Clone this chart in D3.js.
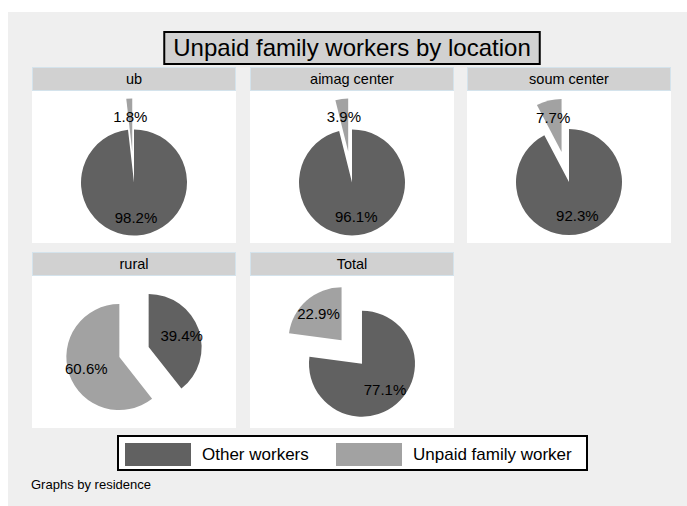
<!DOCTYPE html>
<html>
<head>
<meta charset="utf-8">
<script src="https://cdn.jsdelivr.net/npm/d3@7"></script>
<style>
  body { margin: 0; background: #fff; }
  text { font-family: "Liberation Sans", Arial, sans-serif; fill: #000; }
</style>
</head>
<body>
<div id="chart"></div>
<script>
// data
var panels = ["ub", "aimag center", "soum center", "rural", "Total"];
var otherWorkers = [98.2, 96.1, 92.3, 39.4, 77.1];
var unpaidWorkers = [1.8, 3.9, 7.7, 60.6, 22.9];
var seriesNames = ["Other workers", "Unpaid family worker"];
var titleText = "Unpaid family workers by location";
var noteText = "Graphs by residence";

var attrs = {
    svgWidth: 687,
    svgHeight: 506,
    bgLeft: 8,
    bgTop: 12,
    colX: [32, 250, 467],
    rowY: [67, 252],
    cellWidth: 204,
    headerHeight: 24,
    plotHeight: 152,
    radius: 53,
    explode: 31,
    labelPos: 0.66
};

var color = d3.scaleOrdinal()
    .domain(seriesNames)
    .range(["#616161", "#a2a2a2"]);

var svg = d3.select("#chart")
    .append("svg")
    .attr("width", attrs.svgWidth)
    .attr("height", attrs.svgHeight);

svg.append("rect")
    .attr("x", attrs.bgLeft).attr("y", attrs.bgTop)
    .attr("width", attrs.svgWidth - attrs.bgLeft)
    .attr("height", attrs.svgHeight - attrs.bgTop)
    .attr("fill", "#efefef");

// title
var titleG = svg.append("g");
var titleBox = titleG.append("rect")
    .attr("fill", "#d1d1d1")
    .attr("stroke", "#000")
    .attr("stroke-width", 2);
var title = titleG.append("text")
    .attr("x", 352).attr("y", 56)
    .attr("text-anchor", "middle")
    .attr("font-size", 24)
    .text(titleText);
var tb = title.node().getBBox();
titleBox.attr("x", tb.x - 9).attr("y", 32)
    .attr("width", tb.width + 18).attr("height", 32);

var pie = d3.pie().sort(null).value(function (d) { return d.value; });
var arc = d3.arc().innerRadius(0).outerRadius(attrs.radius);
var fmt = d3.format(".1f");

panels.forEach(function (name, i) {
    var x0 = attrs.colX[i % 3];
    var y0 = attrs.rowY[Math.floor(i / 3)];
    var g = svg.append("g").attr("transform", "translate(" + x0 + "," + y0 + ")");

    g.append("rect")
        .attr("x", 0.5).attr("y", 0.5)
        .attr("width", attrs.cellWidth - 1).attr("height", attrs.headerHeight - 1)
        .attr("fill", "#d1d1d1")
        .attr("stroke", "#d4e3ec");
    g.append("text")
        .attr("x", attrs.cellWidth / 2).attr("y", 17)
        .attr("text-anchor", "middle")
        .attr("font-size", 14.5)
        .text(name);

    g.append("rect")
        .attr("x", 0).attr("y", attrs.headerHeight)
        .attr("width", attrs.cellWidth).attr("height", attrs.plotHeight)
        .attr("fill", "#fff");

    var slices = pie([
        { key: seriesNames[0], value: otherWorkers[i] },
        { key: seriesNames[1], value: unpaidWorkers[i] }
    ]);

    var pieG = g.append("g");
    var sliceG = pieG.selectAll("g.slice")
        .data(slices)
        .enter()
        .append("g")
        .attr("class", "slice")
        .attr("transform", function (d, j) {
            if (j === 0) return null;
            var a = (d.startAngle + d.endAngle) / 2;
            return "translate(" + (Math.sin(a) * attrs.explode) + "," + (-Math.cos(a) * attrs.explode) + ")";
        });

    sliceG.append("path")
        .attr("d", arc)
        .attr("fill", function (d) { return color(d.data.key); });

    // center the pie's bounding box in the plot area
    var bb = pieG.node().getBBox();
    var cx = attrs.cellWidth / 2 - (bb.x + bb.width / 2);
    var cy = attrs.headerHeight + attrs.plotHeight / 2 - (bb.y + bb.height / 2);
    pieG.attr("transform", "translate(" + cx + "," + cy + ")");

    sliceG.append("text")
        .attr("x", function (d) {
            var a = (d.startAngle + d.endAngle) / 2;
            return Math.sin(a) * attrs.radius * attrs.labelPos;
        })
        .attr("y", function (d) {
            var a = (d.startAngle + d.endAngle) / 2;
            return -Math.cos(a) * attrs.radius * attrs.labelPos;
        })
        .attr("dy", "0.36em")
        .attr("text-anchor", "middle")
        .attr("font-size", 15)
        .text(function (d) { return fmt(d.data.value) + "%"; });
});

// legend
var legend = svg.append("g");
legend.append("rect")
    .attr("x", 118).attr("y", 436)
    .attr("width", 469).attr("height", 34)
    .attr("fill", "#fff")
    .attr("stroke", "#000")
    .attr("stroke-width", 2);

var legendX = [125, 336];
var item = legend.selectAll("g.item")
    .data(seriesNames)
    .enter()
    .append("g")
    .attr("class", "item")
    .attr("transform", function (d, i) { return "translate(" + legendX[i] + ",443)"; });
item.append("rect")
    .attr("width", 66).attr("height", 23)
    .attr("fill", function (d) { return color(d); });
item.append("text")
    .attr("x", 77).attr("y", 17)
    .attr("font-size", 17)
    .text(function (d) { return d; });

svg.append("text")
    .attr("x", 31).attr("y", 489)
    .attr("font-size", 13)
    .text(noteText);
</script>
</body>
</html>
